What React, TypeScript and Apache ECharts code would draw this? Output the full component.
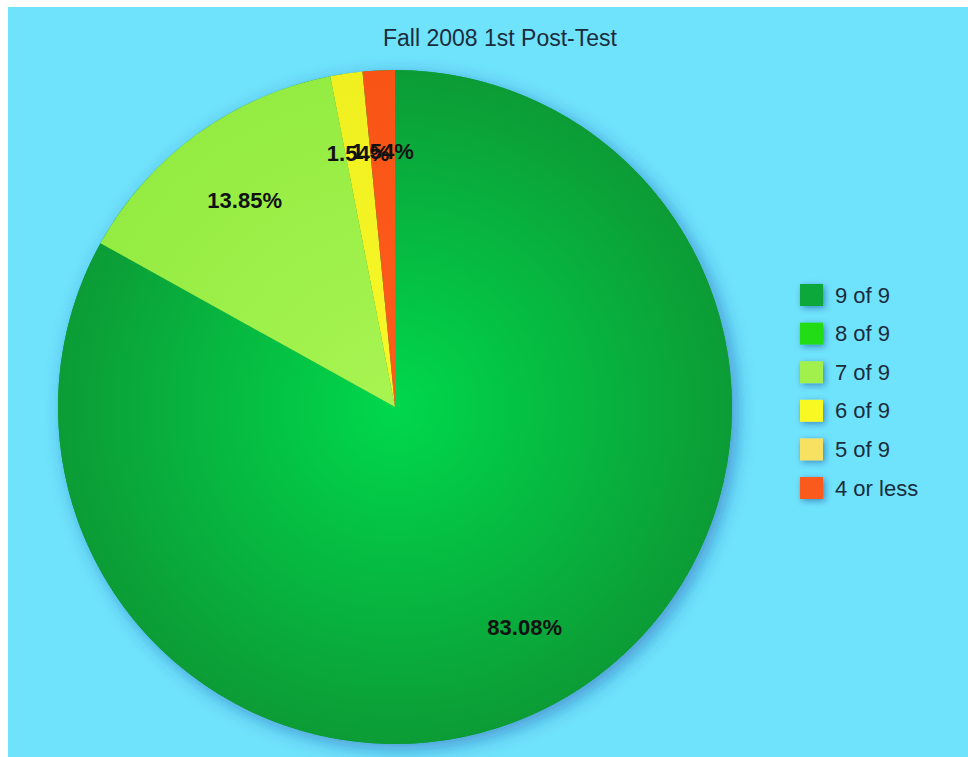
import React, { useEffect, useRef } from "react";
import * as echarts from "echarts";

const categories = ["9 of 9", "8 of 9", "7 of 9", "6 of 9", "5 of 9", "4 or less"];
const counts = [54, 0, 9, 1, 0, 1];
const colorsCenter = ["#00d84c", "#2ee81c", "#a8f452", "#f8f82a", "#f8e46a", "#ff5c1c"];
const colorsEdge = ["#0c9c36", "#20d010", "#94ec42", "#f0f020", "#f0d858", "#f85416"];
const legendColors = ["#0aa83a", "#22dd14", "#a2f04c", "#f8f822", "#f8e060", "#fa5a1c"];

const CX = 387;
const CY = 400;
const R = 337;

export default function App() {
  const ref = useRef<HTMLDivElement>(null);
  useEffect(() => {
    document.body.style.overflow = "hidden";
    const chart = echarts.init(ref.current!, null, { renderer: "svg" });
    const total = counts.reduce((a, b) => a + b, 0);
    const mainData = categories.map((name, i) => ({
      name,
      value: counts[i],
      itemStyle: {
        color: new echarts.graphic.RadialGradient(
          CX,
          CY,
          R,
          [
            { offset: 0, color: colorsCenter[i] },
            { offset: 1, color: colorsEdge[i] },
          ],
          true
        ),
      },
    }));
    const labelData = categories.map((name, i) => ({ name, value: counts[i] }));
    chart.setOption({
      animation: false,
      backgroundColor: "#6fe3fc",
      title: {
        text: "Fall 2008 1st Post-Test",
        left: 375,
        top: 19,
        padding: 0,
        textStyle: {
          fontFamily: "Liberation Sans, Arial, sans-serif",
          fontSize: 23,
          fontWeight: "normal",
          color: "#1c2c3c",
        },
      },
      legend: {
        orient: "vertical",
        left: 787,
        top: 272,
        itemWidth: 23,
        itemHeight: 22,
        itemGap: 16.6,
        icon: "rect",
        selectedMode: false,
        textStyle: {
          fontFamily: "Liberation Sans, Arial, sans-serif",
          fontSize: 22,
          color: "#1c2c3c",
          padding: [0, 0, 0, 7],
        },
        data: categories.map((name, i) => ({
          name,
          itemStyle: {
            color: legendColors[i],
            shadowBlur: 6,
            shadowColor: "rgba(0,40,120,0.45)",
            shadowOffsetX: 2,
            shadowOffsetY: 2,
          },
        })),
      },
      series: [
        {
          type: "pie",
          center: [CX, CY],
          radius: [0, R],
          silent: true,
          label: { show: false },
          labelLine: { show: false },
          itemStyle: {
            color: "#0c9c36",
            shadowBlur: 18,
            shadowColor: "rgba(20,60,160,0.45)",
            shadowOffsetX: 5,
            shadowOffsetY: 5,
          },
          data: [{ name: "", value: total }],
        },
        {
          type: "pie",
          center: [CX, CY],
          radius: [0, R],
          startAngle: 90,
          clockwise: true,
          silent: true,
          label: { show: false },
          labelLine: { show: false },
          data: mainData,
        },
        {
          type: "pie",
          center: [CX, CY],
          radius: [R * 0.5, R],
          startAngle: 90,
          clockwise: true,
          silent: true,
          itemStyle: { color: "rgba(0,0,0,0)" },
          labelLine: { show: false },
          labelLayout: { hideOverlap: false },
          label: {
            show: true,
            position: "inside",
            fontFamily: "Liberation Sans, Arial, sans-serif",
            fontSize: 22,
            fontWeight: "bold",
            color: "#111",
            formatter: (p: any) =>
              p.value > 0 ? ((p.value / total) * 100).toFixed(2) + "%" : "",
          },
          data: labelData,
        },
      ],
    });
    return () => chart.dispose();
  }, []);
  return (
    <div
      ref={ref}
      style={{ position: "fixed", left: 8, top: 7, width: 960, height: 750 }}
    />
  );
}
